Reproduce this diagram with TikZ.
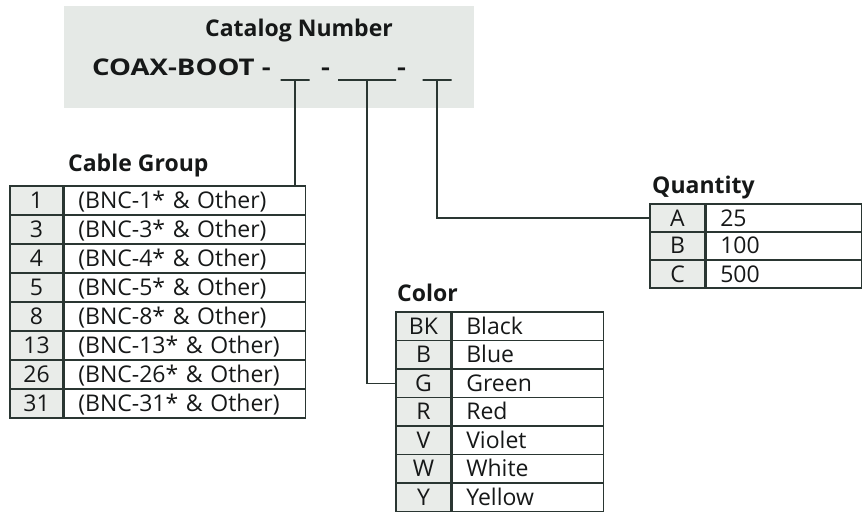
\documentclass[tikz,border=0pt]{standalone}
\usepackage{fontspec}
\setmainfont{Open Sans}
\newfontfamily\widefont[FakeStretch=1.2]{Open Sans}
\usetikzlibrary{positioning, calc}
\definecolor{mydark}{RGB}{42,54,50}
\definecolor{myink}{RGB}{22,24,24}
\definecolor{mygray}{RGB}{229,233,230}
\definecolor{keygray}{RGB}{233,236,233}
\newcommand{\bigtxt}{\fontsize{23}{27}\selectfont}
\tikzset{
  title/.style={anchor=base west, inner sep=0pt, text=myink,
    font=\bigtxt\bfseries},
  keycell/.style={draw=mydark, fill=keygray, line width=1.3pt,
    minimum width=#1, inner sep=0pt, text=myink, font=\bigtxt,
    text height=17pt, text depth=1pt},
  valcell/.style={draw=mydark, fill=white, line width=1.3pt,
    anchor=west, text width=#1, align=left, inner xsep=14pt,
    inner ysep=0pt, text=myink, font=\bigtxt,
    text height=17pt, text depth=1pt},
  slot/.style={draw=mydark, line width=1.6pt, inner sep=0pt,
    minimum width=#1, minimum height=0pt},
  wire/.style={mydark, line width=1.5pt}
}

\begin{document}
\begin{tikzpicture}[x=1pt, y=-1pt]
  \useasboundingbox (0,0) rectangle (863,516);

  % Catalog number header
  \fill[mygray] (64,6) rectangle (474,108);
  \node[anchor=base, inner sep=0pt, text=myink, font=\bigtxt\bfseries] (cat) at (299,37) {Catalog Number};
  \node[anchor=base west, inner sep=0pt, text=myink, font=\widefont\bigtxt\bfseries] (part) at (92,76) {COAX-BOOT -};
  \node[anchor=base, inner sep=0pt, text=myink, font=\widefont\bigtxt\bfseries] (d1) at (325.5,76) {-};
  \node[anchor=base, inner sep=0pt, text=myink, font=\widefont\bigtxt\bfseries] (d2) at (401.5,76) {-};
  \node[slot=29] (s-grp) at (295,80) {};
  \node[slot=58] (s-col) at (367,80) {};
  \node[slot=29] (s-qty) at (437,80) {};

  % Cable group table
  \node[title] (t-grp) at (68,172) {Cable Group};
  \foreach \k [count=\i] in {1,3,4,5,8,13,26,31} {
    \node[keycell=53, minimum height=29] (cg-k\i) at (36.5,{186+29*\i-14.5}) {\k};
    \node[valcell=213, minimum height=29] (cg-v\i) at (cg-k\i.east) {(BNC-\k* \& Other)};
  }

  % Color table
  \node[title] (t-col) at (397,301) {Color};
  \foreach \k/\v [count=\i] in {BK/Black, B/Blue, G/Green, R/Red, V/Violet, W/White, Y/Yellow} {
    \node[keycell=55, minimum height=28.5] (col-k\i) at (423.5,{312+28.5*\i-14.25}) {\k};
    \node[valcell=123, minimum height=28.5] (col-v\i) at (col-k\i.east) {\v};
  }

  % Quantity table
  \node[title] (t-qty) at (652,194) {Quantity};
  \foreach \k/\v [count=\i] in {A/25, B/100, C/500} {
    \node[keycell=55, minimum height=28] (qty-k\i) at (677.5,{204+28*\i-14}) {\k};
    \node[valcell=127, minimum height=28] (qty-v\i) at (qty-k\i.east) {\v};
  }

  % Leader lines
  \draw[wire] (s-grp.south) -- (s-grp.south |- cg-k1.north);
  \draw[wire] (s-col.south) |- (col-k3.west);
  \draw[wire] (s-qty.south) |- (qty-k1.west);
\end{tikzpicture}
\end{document}
